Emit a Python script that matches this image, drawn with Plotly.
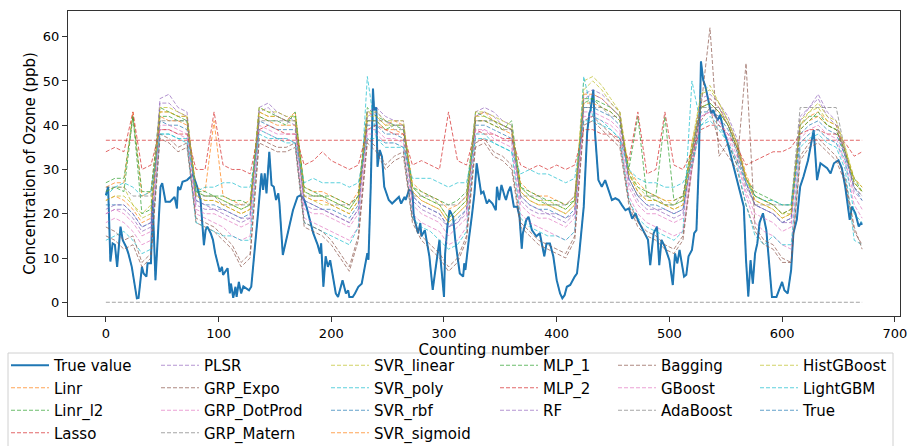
import plotly.graph_objects as go

# ---------------- data ----------------
x_true = [0, 2, 4, 6, 8, 10, 13, 15, 18, 20, 23, 26, 27.5, 29, 30.5, 32, 33.5, 36, 37, 40,
          41.5, 44, 48.5, 50, 53, 57, 61, 63, 64, 66, 68, 72, 77, 78, 81, 84, 87, 88.5, 90, 93,
          95, 97, 100, 101, 103, 104, 108, 110, 111, 113, 115, 116, 118, 120, 122, 125, 127, 129, 132, 135,
          138, 139.5, 141, 142.5, 145, 147, 149, 151, 153, 154, 157, 160, 163, 166, 170, 173, 176, 178, 184, 188,
          190, 191, 193, 195, 197, 199, 201, 204, 206, 209, 210, 213, 215, 216, 219, 221, 224, 227, 230, 232,
          233, 235, 237, 238, 240, 241, 243, 245, 247, 249, 251, 254, 257, 260, 262, 265, 266, 269, 272, 273,
          274, 277, 279, 280, 283, 285, 287, 290, 292, 294, 296, 297, 300, 301, 303, 305, 308, 310, 312, 314,
          317, 318, 319, 321, 322, 325, 327, 329, 331, 333, 335, 338, 340, 343, 346, 347, 349, 351, 354, 355,
          357, 359, 362, 365, 367, 369, 370, 373, 375, 378, 380, 382, 385, 387, 389, 391, 394, 397, 400, 403,
          405, 407, 409, 412, 414, 416, 418, 420, 424, 426, 427, 429, 430, 432.5, 434, 437, 440, 443, 446, 449,
          452, 455, 458, 461, 464, 467, 470, 472, 475, 478, 481, 483, 486, 489, 491, 493, 496, 498, 500, 503,
          505, 507, 509, 511, 513, 515, 517, 520, 522, 524, 526, 528, 530, 532, 534.5, 537, 539, 541, 543, 545,
          548, 551, 554, 557, 560, 563, 566, 568, 570, 572, 574, 576, 578, 580, 583, 586, 588, 591, 595, 600,
          602, 605, 608, 610, 613, 616, 619, 623, 628, 631, 634, 640, 643, 646, 650, 653, 656, 659, 660, 662,
          665, 668, 670, 671]
y_true = [24.2, 26.1, 9.2, 13.3, 13.0, 8.0, 17.1, 14.0, 12.5, 11.0, 8.0, 3.5, 0.9, 1.0, 4.2, 8.0, 6.5, 5.8, 8.8, 8.8,
          23.1, 5.0, 26.1, 26.9, 22.7, 22.7, 23.8, 21.2, 26.1, 25.4, 27.2, 27.6, 28.8, 28.4, 26.1, 23.1, 12.9, 16.3, 17.1, 15.6,
          14.1, 11.1, 8.0, 6.9, 8.0, 6.2, 7.7, 2.0, 4.2, 1.0, 3.5, 1.2, 4.6, 2.0, 3.6, 3.1, 2.7, 3.5, 11.1, 20.1,
          29.1, 25.4, 29.1, 24.6, 34.0, 26.5, 26.1, 23.1, 24.6, 22.3, 10.7, 14.1, 17.1, 20.8, 23.8, 24.2, 23.1, 21.6, 15.6, 12.9,
          11.0, 13.3, 3.5, 10.4, 8.0, 9.5, 6.5, 2.0, 1.2, 4.2, 5.0, 2.0, 2.7, 1.2, 1.2, 2.0, 3.5, 4.2, 8.0, 11.1,
          9.6, 26.1, 48.3, 43.4, 44.0, 30.6, 34.4, 32.9, 26.1, 24.6, 23.1, 22.3, 23.1, 23.8, 22.3, 23.8, 23.1, 25.4, 25.0, 20.1,
          18.6, 15.6, 17.9, 14.9, 16.3, 13.3, 10.4, 2.8, 6.5, 11.0, 14.1, 9.6, 1.2, 11.0, 17.1, 20.8, 19.3, 14.1, 9.6, 6.5,
          5.8, 8.8, 7.3, 12.5, 14.1, 20.1, 24.6, 31.4, 27.6, 24.6, 25.0, 22.3, 23.1, 22.3, 20.8, 26.1, 23.1, 26.5, 23.8, 23.1,
          25.0, 26.1, 21.6, 21.6, 19.3, 12.1, 15.6, 18.6, 19.3, 16.3, 15.6, 14.9, 15.6, 12.5, 10.4, 13.3, 13.3, 10.4, 5.0, 2.0,
          0.9, 1.6, 3.5, 3.9, 5.0, 5.8, 6.5, 11.0, 21.6, 32.1, 38.2, 42.7, 43.4, 48.0, 38.2, 27.6, 26.1, 27.6, 25.4, 23.1,
          23.5, 23.1, 21.9, 20.8, 21.2, 18.9, 20.1, 18.6, 17.1, 15.6, 14.1, 8.4, 15.6, 17.1, 8.4, 14.1, 12.5, 11.0, 9.5, 3.9,
          11.0, 8.8, 11.8, 8.8, 5.8, 6.2, 10.4, 11.8, 15.6, 16.3, 30.6, 54.4, 50.2, 48.7, 45.7, 42.7, 43.4, 41.9, 41.2, 42.3,
          38.9, 36.6, 33.6, 30.6, 27.6, 24.6, 21.6, 9.5, 1.3, 9.5, 4.2, 11.0, 13.3, 18.0, 20.1, 16.3, 10.0, 1.2, 1.2, 4.6,
          2.7, 2.0, 7.3, 15.6, 18.6, 26.1, 28.4, 32.1, 38.9, 27.6, 31.4, 30.3, 29.1, 31.4, 32.1, 30.3, 26.1, 20.8, 18.6, 21.6,
          20.1, 17.1, 17.9, 17.5]

x_grid = [0, 8, 16, 24, 32, 40, 48, 56, 64, 72,
          80, 88, 96, 104, 112, 120, 128, 136, 144, 152,
          160, 168, 176, 184, 192, 200, 208, 216, 224, 232,
          240, 248, 256, 264, 272, 280, 288, 296, 304, 312,
          320, 328, 336, 344, 352, 360, 368, 376, 384, 392,
          400, 408, 416, 424, 432, 440, 448, 456, 464, 472,
          480, 488, 496, 504, 512, 520, 528, 536, 544, 552,
          560, 568, 576, 584, 592, 600, 608, 616, 624, 632,
          640, 648, 656, 664, 671]
x_const = [0, 671]

linr = [26, 27, 27, 43, 24, 25, 43, 43, 42, 42,
        26, 25, 41, 24, 23, 22, 23, 43, 42, 42,
        41, 43, 26, 25, 25, 24, 23, 22, 25, 43,
        42, 40, 41, 40, 27, 25, 24, 23, 21, 22,
        24, 42, 43, 41, 40, 39, 27, 25, 24, 24,
        23, 22, 24, 47, 47, 46, 44, 42, 30, 27,
        25, 24, 23, 23, 24, 36, 45, 46, 44, 40,
        36, 29, 24, 23, 22, 20, 21, 40, 42, 43,
        41, 40, 34, 28, 26]
linr_l2 = [27, 28, 28, 42, 25, 25, 44, 43, 42, 41,
           25, 25, 24, 24, 23, 23, 22, 44, 43, 42,
           41, 42, 26, 25, 24, 24, 23, 22, 24, 44,
           42, 41, 40, 40, 26, 25, 24, 23, 22, 23,
           25, 43, 42, 41, 40, 39, 26, 25, 24, 23,
           23, 22, 23, 46, 46, 45, 44, 42, 29, 26,
           25, 24, 42, 23, 24, 35, 44, 45, 43, 40,
           35, 28, 25, 24, 23, 22, 22, 40, 42, 42,
           40, 39, 33, 28, 25]
lasso = [36.6, 36.6]
plsr = [20, 21, 21, 19, 16, 17, 46, 47, 44, 43,
        22, 21, 21, 20, 19, 18, 19, 44, 45, 43,
        42, 41, 22, 21, 21, 20, 19, 18, 21, 43,
        44, 42, 41, 41, 23, 21, 20, 19, 17, 18,
        20, 43, 44, 43, 41, 40, 23, 21, 20, 20,
        19, 18, 20, 47, 48, 47, 45, 43, 27, 23,
        21, 21, 20, 19, 20, 34, 46, 47, 45, 42,
        37, 27, 22, 21, 20, 18, 18, 42, 44, 47,
        43, 41, 34, 25, 23]
grp_expo = [15, 14, 12, 13, 8, 10, 37, 36, 34, 35,
            18, 17, 16, 14, 12, 8, 10, 36, 35, 34,
            34, 35, 17, 16, 15, 13, 10, 7, 14, 36,
            34, 30, 32, 33, 18, 14, 12, 10, 7, 9,
            14, 35, 36, 33, 32, 30, 17, 15, 13, 12,
            11, 10, 14, 40, 41, 39, 37, 35, 22, 17,
            15, 14, 12, 11, 14, 30, 41, 44, 36, 33,
            30, 22, 16, 13, 12, 9, 9, 32, 35, 36,
            34, 32, 27, 16, 13]
grp_dotprod = [18, 19, 18, 16, 13, 14, 39, 39, 38, 37,
               20, 19, 18, 17, 15, 14, 15, 39, 38, 37,
               37, 36, 19, 18, 17, 16, 15, 14, 17, 38,
               38, 36, 36, 35, 20, 18, 17, 16, 13, 14,
               17, 38, 39, 37, 36, 35, 20, 18, 17, 16,
               15, 14, 16, 42, 42, 41, 40, 38, 24, 20,
               18, 17, 16, 15, 16, 30, 42, 43, 41, 37,
               32, 24, 18, 16, 15, 13, 12, 36, 38, 39,
               37, 36, 31, 22, 19]
grp_matern = [0.0, 0.0]
svr_linear = [25, 26, 26, 22, 20, 22, 43, 43, 42, 42,
              25, 24, 24, 23, 22, 21, 22, 43, 42, 42,
              41, 41, 25, 24, 24, 23, 22, 21, 24, 42,
              42, 40, 40, 40, 26, 24, 23, 22, 19, 21,
              23, 42, 42, 41, 40, 39, 26, 24, 23, 23,
              22, 21, 23, 50, 51, 49, 46, 43, 30, 26,
              24, 24, 23, 22, 23, 36, 47, 48, 45, 41,
              36, 28, 24, 23, 22, 20, 20, 40, 43, 44,
              41, 40, 35, 28, 26]
svr_poly = [14, 15, 16, 14, 11, 12, 38, 38, 37, 36,
            18, 17, 16, 15, 15, 14, 14, 39, 38, 37,
            37, 36, 18, 17, 16, 15, 14, 13, 17, 51,
            37, 36, 36, 35, 19, 17, 16, 14, 12, 13,
            16, 38, 38, 36, 35, 34, 19, 17, 16, 15,
            15, 14, 16, 51, 42, 41, 39, 37, 23, 19,
            17, 16, 15, 14, 16, 50, 40, 42, 40, 36,
            31, 22, 15, 13, 15, 13, 13, 35, 37, 38,
            36, 35, 30, 14, 13]
svr_rbf = [22, 22, 22, 20, 17, 18, 41, 40, 40, 39,
           23, 22, 22, 21, 20, 19, 20, 41, 40, 39,
           39, 39, 23, 22, 21, 21, 20, 19, 22, 40,
           40, 38, 38, 37, 24, 22, 21, 20, 17, 19,
           21, 40, 40, 39, 38, 37, 24, 22, 21, 21,
           20, 19, 21, 44, 44, 43, 42, 40, 28, 24,
           22, 22, 21, 20, 21, 32, 43, 43, 42, 39,
           34, 27, 22, 21, 20, 18, 19, 38, 40, 41,
           39, 38, 33, 26, 23]
svr_sigmoid = [23, 24, 23, 21, 18, 19, 42, 41, 41, 40,
               24, 23, 23, 22, 21, 20, 21, 42, 41, 40,
               40, 40, 24, 23, 23, 22, 21, 20, 23, 41,
               41, 39, 39, 38, 25, 23, 22, 21, 18, 20,
               22, 41, 41, 40, 39, 38, 25, 23, 22, 22,
               21, 20, 22, 45, 45, 44, 43, 41, 29, 25,
               23, 23, 22, 21, 22, 33, 44, 45, 43, 40,
               35, 28, 23, 22, 21, 19, 20, 39, 41, 42,
               40, 39, 34, 27, 25]
mlp_1 = [25, 26, 25, 42, 20, 21, 42, 42, 41, 41,
         25, 24, 24, 23, 22, 21, 22, 42, 41, 41,
         40, 43, 25, 24, 24, 23, 22, 21, 24, 41,
         41, 39, 40, 39, 26, 24, 23, 22, 19, 21,
         23, 41, 41, 40, 39, 41, 26, 24, 23, 22,
         22, 21, 23, 45, 46, 44, 43, 41, 30, 42,
         24, 23, 22, 22, 23, 34, 44, 45, 43, 40,
         35, 28, 24, 23, 22, 20, 21, 39, 41, 43,
         40, 39, 34, 27, 25]
mlp_2 = [34, 35, 34, 43, 30, 31, 39, 39, 38, 38,
         30, 30, 43, 31, 30, 30, 29, 39, 40, 39,
         38, 38, 31, 32, 34, 32, 31, 30, 31, 39,
         40, 39, 38, 38, 31, 32, 31, 30, 43, 32,
         31, 39, 38, 38, 37, 37, 31, 30, 31, 30,
         31, 30, 31, 39, 39, 38, 38, 37, 32, 43,
         29, 30, 43, 31, 30, 34, 39, 40, 40, 38,
         35, 31, 32, 33, 34, 34, 35, 38, 39, 39,
         38, 38, 36, 33, 34]
rf = [21, 22, 22, 20, 17, 18, 45, 45, 43, 42,
      23, 22, 21, 21, 20, 19, 19, 43, 44, 42,
      41, 40, 23, 22, 21, 20, 19, 18, 21, 42,
      43, 41, 40, 40, 24, 22, 21, 20, 17, 18,
      21, 42, 43, 42, 40, 39, 24, 22, 21, 20,
      20, 19, 20, 46, 47, 46, 44, 42, 28, 24,
      22, 21, 21, 20, 21, 33, 45, 46, 44, 41,
      36, 27, 22, 21, 20, 18, 19, 41, 44, 46,
      42, 40, 33, 26, 24]
bagging = [17, 16, 14, 15, 9, 11, 38, 37, 35, 36,
           19, 18, 17, 15, 13, 9, 11, 37, 36, 35,
           35, 36, 18, 17, 16, 14, 11, 8, 15, 37,
           35, 31, 33, 34, 19, 15, 13, 11, 8, 10,
           15, 36, 37, 34, 33, 31, 18, 16, 14, 13,
           12, 11, 15, 41, 42, 40, 38, 36, 23, 18,
           16, 15, 13, 12, 15, 31, 44, 62, 33, 36,
           31, 54, 17, 14, 13, 10, 9, 33, 36, 37,
           35, 33, 28, 17, 12]
gboost = [20, 21, 20, 18, 15, 16, 40, 40, 39, 38,
          21, 20, 20, 19, 18, 17, 18, 40, 39, 38,
          38, 38, 21, 20, 20, 19, 18, 17, 20, 39,
          39, 37, 37, 36, 22, 20, 19, 18, 15, 17,
          19, 39, 39, 38, 37, 36, 22, 20, 19, 19,
          18, 17, 19, 43, 43, 42, 41, 39, 26, 22,
          20, 20, 19, 18, 19, 31, 42, 43, 41, 38,
          33, 25, 20, 19, 18, 16, 17, 37, 39, 40,
          38, 37, 32, 24, 21]
adaboost = [26, 26, 26, 24, 24, 24, 41, 41, 41, 41,
            24, 24, 24, 22, 22, 22, 22, 41, 41, 41,
            41, 41, 24, 24, 24, 22, 22, 22, 24, 41,
            41, 41, 39, 39, 24, 24, 24, 22, 22, 22,
            24, 41, 41, 41, 39, 39, 24, 24, 24, 22,
            22, 22, 24, 44, 44, 44, 42, 42, 28, 24,
            24, 24, 22, 22, 24, 34, 44, 44, 44, 40,
            34, 26, 22, 22, 22, 22, 22, 44, 44, 44,
            44, 44, 34, 26, 24]
histgboost = [23, 24, 24, 22, 19, 20, 44, 44, 43, 42,
              24, 23, 23, 22, 21, 20, 21, 44, 43, 43,
              42, 42, 24, 23, 22, 22, 21, 20, 23, 43,
              43, 41, 41, 41, 25, 23, 22, 21, 18, 20,
              22, 43, 43, 42, 41, 40, 25, 23, 22, 22,
              21, 20, 22, 48, 50, 48, 45, 43, 29, 25,
              23, 23, 22, 21, 22, 35, 47, 49, 45, 41,
              36, 28, 23, 22, 21, 19, 20, 41, 43, 45,
              42, 41, 35, 27, 25]
lightgbm = [24, 26, 27, 26, 24, 25, 38, 38, 37, 37,
            25, 26, 26, 27, 27, 26, 26, 38, 37, 37,
            36, 36, 27, 28, 27, 27, 27, 26, 27, 37,
            37, 35, 35, 35, 28, 28, 28, 27, 26, 27,
            27, 37, 37, 36, 35, 34, 29, 30, 29, 29,
            28, 27, 28, 41, 41, 40, 39, 37, 30, 28,
            27, 27, 26, 26, 27, 31, 40, 41, 39, 36,
            32, 27, 24, 23, 23, 22, 22, 36, 38, 39,
            37, 36, 32, 20, 18]

x_ticks = [0, 100, 200, 300, 400, 500, 600, 700]
y_ticks = [0, 10, 20, 30, 40, 50, 60]

# ---------------- styling ----------------
C = ["#1f77b4", "#ff7f0e", "#2ca02c", "#d62728", "#9467bd",
     "#8c564b", "#e377c2", "#7f7f7f", "#bcbd22", "#17becf"]
DASH = "4px,2px"
FONT = "DejaVu Sans"

series = [
    ("True value", x_true, y_true, C[0], "solid", 2.0, 1.0),
    ("Linr", x_grid, linr, C[1], DASH, 1.0, 0.7),
    ("Linr_l2", x_grid, linr_l2, C[2], DASH, 1.0, 0.7),
    ("Lasso", x_const, lasso, C[3], DASH, 1.0, 0.7),
    ("PLSR", x_grid, plsr, C[4], DASH, 1.0, 0.7),
    ("GRP_Expo", x_grid, grp_expo, C[5], DASH, 1.0, 0.7),
    ("GRP_DotProd", x_grid, grp_dotprod, C[6], DASH, 1.0, 0.7),
    ("GRP_Matern", x_const, grp_matern, C[7], DASH, 1.0, 0.7),
    ("SVR_linear", x_grid, svr_linear, C[8], DASH, 1.0, 0.7),
    ("SVR_poly", x_grid, svr_poly, C[9], DASH, 1.0, 0.7),
    ("SVR_rbf", x_grid, svr_rbf, C[0], DASH, 1.0, 0.7),
    ("SVR_sigmoid", x_grid, svr_sigmoid, C[1], DASH, 1.0, 0.7),
    ("MLP_1", x_grid, mlp_1, C[2], DASH, 1.0, 0.7),
    ("MLP_2", x_grid, mlp_2, C[3], DASH, 1.0, 0.7),
    ("RF", x_grid, rf, C[4], DASH, 1.0, 0.7),
    ("Bagging", x_grid, bagging, C[5], DASH, 1.0, 0.7),
    ("GBoost", x_grid, gboost, C[6], DASH, 1.0, 0.7),
    ("AdaBoost", x_grid, adaboost, C[7], DASH, 1.0, 0.7),
    ("HistGBoost", x_grid, histgboost, C[8], DASH, 1.0, 0.7),
    ("LightGBM", x_grid, lightgbm, C[9], DASH, 1.0, 0.7),
    ("True", x_true, y_true, C[0], DASH, 1.0, 0.7),
]

# legend column of each entry (matplotlib ncol=6, column-major)
col_of = [0, 0, 0, 0, 1, 1, 1, 1, 2, 2, 2, 2, 3, 3, 3, 4, 4, 4, 5, 5, 5]
legend_ids = ["legend", "legend2", "legend3", "legend4", "legend5", "legend6"]

W, H = 909, 446
L, R, T, B = 68, 9, 11, 130
PW, PH = W - L - R, H - T - B

def px2x(px):
    return (px - L) / PW

def py2y(py):
    return (H - B - py) / PH

fig = go.Figure()
for i, (name, xs, ys, color, dash, width, op) in enumerate(series):
    fig.add_trace(go.Scatter(
        x=xs, y=ys, mode="lines", name=name,
        line=dict(color=color, dash=dash, width=width),
        opacity=op, legend=legend_ids[col_of[i]],
    ))

col_px = [6, 156, 326, 495, 613, 755]
legend_layout = {}
for k, lid in enumerate(legend_ids):
    legend_layout[lid] = dict(
        x=px2x(col_px[k]), y=py2y(349), xanchor="left", yanchor="top",
        orientation="v", bgcolor="rgba(0,0,0,0)", borderwidth=0,
        font=dict(family=FONT, size=15, color="#000"),
        tracegroupgap=0, itemwidth=38,
    )

axis_common = dict(
    showgrid=False, zeroline=False, showline=True, mirror=True,
    linecolor="#333", linewidth=1, ticks="outside", ticklen=5,
    tickwidth=1, tickcolor="#333",
    tickfont=dict(family=FONT, size=13, color="#000"),
)

fig.update_layout(
    width=W, height=H,
    margin=dict(l=L, r=R, t=T, b=B, autoexpand=False),
    paper_bgcolor="white", plot_bgcolor="white",
    font=dict(family=FONT, color="#000"),
    showlegend=True,
    xaxis=dict(range=[-33.6, 704.6], tickvals=x_ticks,
               title=dict(text="Counting number", font=dict(family=FONT, size=15, color="#000"), standoff=1),
               **axis_common),
    yaxis=dict(range=[-3.1, 65.8], tickvals=y_ticks,
               title=dict(text="Concentration of Ozone (ppb)", font=dict(family=FONT, size=15, color="#000"), standoff=3),
               **axis_common),
    shapes=[dict(type="rect", xref="paper", yref="paper",
                 x0=px2x(8), x1=px2x(893), y0=py2y(460), y1=py2y(353),
                 line=dict(color="#d0d0d0", width=1), fillcolor="rgba(255,255,255,0)", layer="below")],
    **legend_layout,
)

fig.write_html("out.html")
